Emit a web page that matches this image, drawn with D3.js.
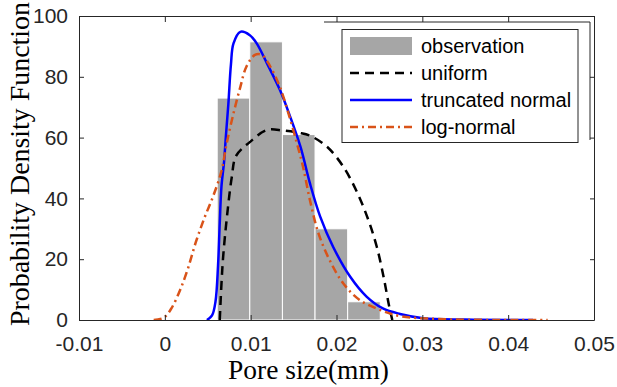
<!DOCTYPE html>
<html><head><meta charset="utf-8">
<script src="https://cdn.jsdelivr.net/npm/d3@7"></script>
<style>body{margin:0;background:#fff}svg{display:block}</style>
</head><body>
<script>
// ---- data ----
const xTicks = [-0.01, 0, 0.01, 0.02, 0.03, 0.04, 0.05];
const xTickLabels = ["-0.01", "0", "0.01", "0.02", "0.03", "0.04", "0.05"];
const yTicks = [0, 20, 40, 60, 80, 100];
const binEdges = [0.0061, 0.0099, 0.0137, 0.0175, 0.0213, 0.0251];
const binHeights = [73, 91.5, 61, 30, 6];
const uniformCurve = [[0.0064,0],[0.0066,12],[0.0068,21],[0.0072,33],[0.0078,47],[0.0083,54],[0.0099,58.5],[0.0119,62.5],[0.0138,62.3],[0.0158,61.5],[0.0170,60.5],[0.0189,57],[0.0208,50.4],[0.0224,42],[0.0237,33],[0.0247,24],[0.0255,14],[0.0261,5],[0.0265,0]];
const truncNormalCurve = [[0.0049,0],[0.0055,1.5],[0.0059,6],[0.0062,18],[0.0064,32],[0.0066,44],[0.0069,52],[0.0071,60],[0.0074,71],[0.0077,84],[0.0080,91],[0.0088,94.8],[0.0099,93.7],[0.0107,91],[0.0119,84.4],[0.0134,75.7],[0.0146,66.9],[0.0158,57],[0.0169,45],[0.0181,34],[0.0196,24.1],[0.0216,14.2],[0.0235,7.7],[0.0254,3.8],[0.0274,2.0],[0.0301,0.6],[0.0350,0.15],[0.0429,0]];
const logNormalCurve = [[-0.0013,0],[-0.0001,0.8],[0.0008,4],[0.0018,10],[0.0027,17],[0.0036,25.5],[0.0046,33.5],[0.0056,40.5],[0.0066,49],[0.0072,58],[0.0080,68],[0.0088,76.7],[0.0095,83.3],[0.0105,87.2],[0.0113,87.2],[0.0123,83.3],[0.0134,76.7],[0.0144,68],[0.0154,58],[0.0161,50.4],[0.0169,39.5],[0.0179,28.5],[0.0192,19.7],[0.0208,12],[0.0227,6.6],[0.0251,3.3],[0.0274,1.3],[0.0320,0.3],[0.0446,0]];
const legendLabels = ["observation", "uniform", "truncated normal", "log-normal"];

// ---- layout ----
const W = 617, H = 387;
const L = 79, R = 594, T = 16, B = 320;
const svg = d3.select("body").append("svg").attr("width", W).attr("height", H);
const x = d3.scaleLinear().domain([-0.01, 0.05]).range([L, R]);
const y = d3.scaleLinear().domain([0, 100]).range([B, T]);
const axisColor = "#262626";
const sans = "'Liberation Sans', Arial, sans-serif";
const serif = "'Liberation Serif', 'Times New Roman', serif";

// bars
const bins = binHeights.map((h, i) => ({x0: binEdges[i], x1: binEdges[i + 1], h}));
svg.append("g").selectAll("rect").data(bins).join("rect")
  .attr("x", d => x(d.x0)).attr("width", d => x(d.x1) - x(d.x0))
  .attr("y", d => y(d.h)).attr("height", d => y(0) - y(d.h))
  .attr("fill", "#a6a6a6").attr("stroke", "#fff").attr("stroke-width", 1);

const line = d3.line().x(d => x(d[0])).y(d => Math.min(y(0), y(d[1]))).curve(d3.curveCatmullRom.alpha(0.5));
svg.append("clipPath").attr("id", "c").append("rect")
  .attr("x", L).attr("y", T).attr("width", R - L).attr("height", B - T);
const curves = svg.append("g").attr("clip-path", "url(#c)");
curves.append("path").attr("d", line(uniformCurve)).attr("fill", "none")
  .attr("stroke", "#000").attr("stroke-width", 2.5).attr("stroke-dasharray", "9,6");
curves.append("path").attr("d", line(truncNormalCurve)).attr("fill", "none")
  .attr("stroke", "#0000ff").attr("stroke-width", 2.5);
curves.append("path").attr("d", line(logNormalCurve)).attr("fill", "none")
  .attr("stroke", "#d95319").attr("stroke-width", 2.5).attr("stroke-dasharray", "8,4,2,4");

// axes
const gx = svg.append("g").attr("transform", `translate(0,${B})`)
  .call(d3.axisBottom(x).tickValues(xTicks).tickFormat((d, i) => xTickLabels[i]).tickSizeInner(-5).tickSizeOuter(0).tickPadding(16));
const gy = svg.append("g").attr("transform", `translate(${L},0)`)
  .call(d3.axisLeft(y).tickValues(yTicks).tickSizeInner(-5).tickSizeOuter(0).tickPadding(11));
const gxt = svg.append("g").attr("transform", `translate(0,${T})`)
  .call(d3.axisTop(x).tickValues(xTicks).tickFormat("").tickSizeInner(-6).tickSizeOuter(0));
const gyr = svg.append("g").attr("transform", `translate(${R},0)`)
  .call(d3.axisRight(y).tickValues(yTicks).tickFormat("").tickSizeInner(-4).tickSizeOuter(0));
[gx, gy, gxt, gyr].forEach(g => {
  g.selectAll("path,line").attr("stroke", axisColor).attr("stroke-width", 1);
  g.selectAll("text").attr("fill", "#262626").style("font-family", sans).style("font-size", "21px");
});
gx.selectAll("text").attr("dy", "0.71em");
gy.selectAll("text").attr("dy", "0.32em");

// inner frame artifact near the legend
svg.append("path").attr("d", `M${324},${22}H${590}V${140}`).attr("fill", "none")
  .attr("stroke", axisColor).attr("stroke-width", 1);

// axis labels
svg.append("text").attr("x", 228).attr("y", 379)
  .style("font-family", serif).style("font-size", "27px").attr("fill", "#000")
  .attr("textLength", 161).attr("lengthAdjust", "spacingAndGlyphs").text("Pore size(mm)");
svg.append("text").attr("transform", "translate(29,164) rotate(-90)").attr("text-anchor", "middle")
  .style("font-family", serif).style("font-size", "27px").attr("fill", "#000")
  .attr("textLength", 324).attr("lengthAdjust", "spacingAndGlyphs").text("Probability Density Function");

// legend
const lg = svg.append("g");
lg.append("rect").attr("x", 342).attr("y", 29.5).attr("width", 236).attr("height", 113)
  .attr("fill", "#fff").attr("stroke", axisColor).attr("stroke-width", 1);
const rowY = [46, 73, 100, 127];
lg.append("rect").attr("x", 350).attr("y", 37).attr("width", 62).attr("height", 18).attr("fill", "#a6a6a6");
lg.append("line").attr("x1", 350).attr("x2", 412).attr("y1", rowY[1]).attr("y2", rowY[1])
  .attr("stroke", "#000").attr("stroke-width", 2.5).attr("stroke-dasharray", "9,6");
lg.append("line").attr("x1", 350).attr("x2", 412).attr("y1", rowY[2]).attr("y2", rowY[2])
  .attr("stroke", "#0000ff").attr("stroke-width", 2.5);
lg.append("line").attr("x1", 350).attr("x2", 412).attr("y1", rowY[3]).attr("y2", rowY[3])
  .attr("stroke", "#d95319").attr("stroke-width", 2.5).attr("stroke-dasharray", "8,4,2,4");
lg.selectAll("text.l").data(legendLabels).join("text").attr("class", "l")
  .attr("x", 421).attr("y", (d, i) => rowY[i] + 7)
  .style("font-family", sans).style("font-size", "20px").attr("fill", "#000").text(d => d);
</script>
</body></html>
